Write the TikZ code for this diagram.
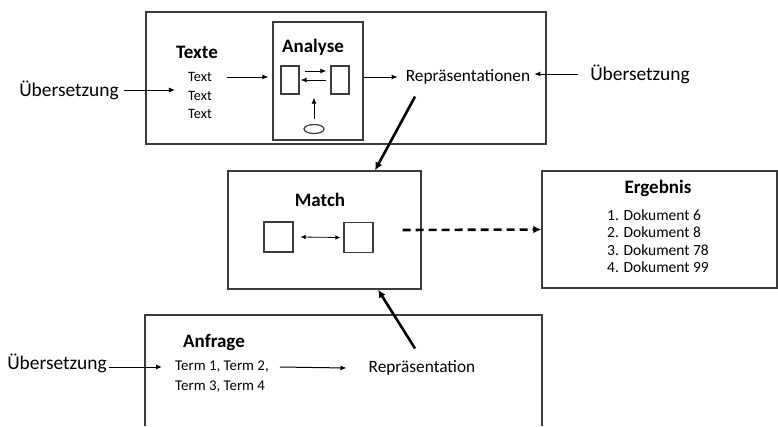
\documentclass[tikz,border=0pt]{standalone}
\usepackage{fontspec}
\setmainfont{Carlito}
\usetikzlibrary{arrows.meta,shapes.geometric}
\definecolor{boxgray}{HTML}{3C3C3C}
\begin{document}
\begin{tikzpicture}[x=1pt,y=-1pt,
  frame/.style={draw=boxgray,line width=1.2pt,inner sep=0pt},
  head/.style={inner sep=0pt,font=\bfseries\fontsize{19}{22}\selectfont},
  uebtext/.style={inner sep=0pt,font=\fontsize{19.4}{23}\selectfont},
  reptext/.style={inner sep=0pt,font=\fontsize{17.3}{20}\selectfont},
  smalltext/.style={inner sep=0pt,font=\fontsize{14.3}{17}\selectfont},
  termtext/.style={inner sep=0pt,font=\fontsize{14.9}{18}\selectfont},
  listtext/.style={inner sep=0pt,font=\fontsize{15.5}{18}\selectfont},
  arr/.style={-{Latex[length=6pt,width=5pt]},line width=1pt},
  dblarr/.style={{Latex[length=5pt,width=4.5pt]}-{Latex[length=5pt,width=4.5pt]},line width=0.8pt},
  bigarr/.style={-{Latex[length=8pt,width=7.5pt]},line width=2.6pt},
  dasharr/.style={bigarr,dash pattern=on 8pt off 5pt}]
\useasboundingbox (0,0) rectangle (778,426);

% --- document side: texts, analysis, representations
\node[frame,minimum width=400pt,minimum height=132pt] (docs) at (346,78) {};
\node[frame,minimum width=90pt,minimum height=118pt] (ana) at (318,81) {};
\node[head] (anatitle) at (313,47) {Analyse};
\node[frame,minimum width=18pt,minimum height=28pt] (ra) at (290,80) {};
\node[frame,minimum width=18pt,minimum height=28pt] (rb) at (340,80) {};
\node[frame,ellipse,minimum width=20pt,minimum height=9pt] (ell) at (314,129) {};
\draw[arr] ([xshift=5pt,yshift=9pt]ra.east) -- ([xshift=-4pt,yshift=9pt]rb.west);
\draw[arr] ([xshift=-4pt]rb.west) -- ([xshift=1pt]ra.east);
\draw[arr] ([yshift=4.5pt]ell.north) -- ([yshift=-3pt]ell.north |- ra.south);

\node[head] (texte) at (197,52) {Texte};
\node[smalltext] (t1) at (200,77) {Text};
\node[smalltext] (t2) at (200,96) {Text};
\node[smalltext] (t3) at (200,114) {Text};
\draw[arr] ([xshift=15pt]t1.east) -- ([xshift=-4pt]ana.west |- t1.east);

\node[reptext] (rep) at (468,77) {Repräsentationen};
\draw[arr] (ana.east |- rep.west) -- ([xshift=-8pt]rep.west);

\node[uebtext] (ueb1) at (69,90) {Übersetzung};
\draw[arr] ([xshift=5pt]ueb1.east) -- ([xshift=-13pt]t2.west |- ueb1.east);
\node[uebtext] (ueb2) at (640,74) {Übersetzung};
\draw[arr] ([xshift=-12pt]ueb2.west) -- ([xshift=4pt]rep.east |- ueb2.west);

% --- matching
\node[frame,minimum width=193pt,minimum height=118pt] (match) at (324.5,230) {};
\node[head] (matchtitle) at (320,200) {Match};
\node[frame,minimum width=29pt,minimum height=30pt] (sq1) at (278.5,237) {};
\node[frame,minimum width=29pt,minimum height=30pt] (sq2) at (358.5,237.5) {};
\draw[dblarr] ([xshift=7pt]sq1.east) -- ([xshift=-3pt]sq2.west);

% --- result list
\node[frame,minimum width=235pt,minimum height=117pt] (erg) at (659.5,229.5) {};
\node[head] (ergtitle) at (658,188) {Ergebnis};
\node[listtext,anchor=west] (d1) at (607,215) {1. Dokument 6};
\node[listtext,anchor=west] (d2) at (607,232.5) {2. Dokument 8};
\node[listtext,anchor=west] (d3) at (607,250) {3. Dokument 78};
\node[listtext,anchor=west] (d4) at (607,267.5) {4. Dokument 99};

% --- query side
\draw[draw=boxgray,line width=1.2pt] (145,426) -- (145,315) -- (542,315) -- (542,426);
\node[head] (anf) at (214,343) {Anfrage};
\node[termtext,anchor=west] (q1) at (175,367) {Term 1, Term 2,};
\node[termtext,anchor=west] (q2) at (175,387) {Term 3, Term 4};
\node[reptext] (rep2) at (422,368) {Repräsentation};
\node[uebtext] (ueb3) at (57,363) {Übersetzung};
\draw[arr] ([xshift=2pt]ueb3.east |- q1.west) -- ([xshift=-13pt]q1.west);
\draw[arr] ([xshift=11pt]q1.east) -- ([xshift=-22pt]rep2.west);

% --- flows into and out of the match
\draw[bigarr] ([xshift=-53pt,yshift=-12pt]rep.south) -- ([xshift=50.5pt]match.north);
\draw[bigarr] ([xshift=-7pt,yshift=12pt]rep2.north) -- ([xshift=53.5pt]match.south);
\draw[dasharr] ([xshift=-19pt]match.east) -- (erg.west);
\end{tikzpicture}
\end{document}
